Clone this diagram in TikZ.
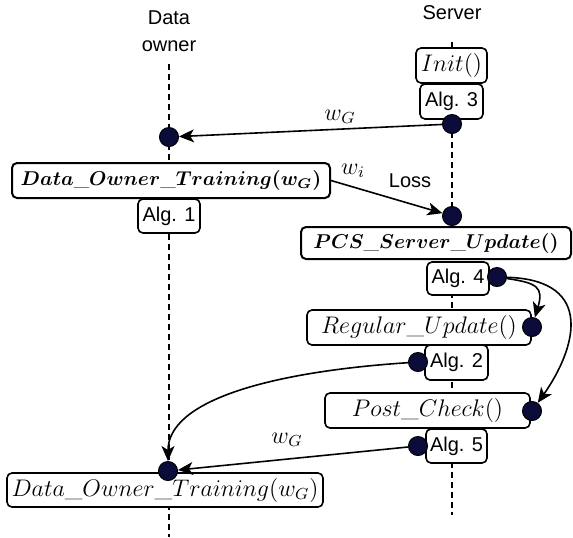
\documentclass[tikz,border=0pt]{standalone}
\usepackage{fontspec}
\setsansfont{Liberation Sans}
\usepackage{amsmath}
\usetikzlibrary{arrows.meta, backgrounds}
\definecolor{ink}{HTML}{000000}
\definecolor{dotfill}{HTML}{0B0C3A}
\tikzset{
  font=\sffamily\fontsize{10}{13.5}\selectfont,
  >={Stealth[length=7.5pt, width=6.5pt, inset=2pt]},
  %
  actor/.style={align=center, text=ink, inner sep=0pt},
  fbox/.style={
    draw=ink, line width=0.8pt, fill=white, rounded corners=2.5pt,
    inner sep=1pt, text=ink, font=\fontsize{12}{14}\selectfont,
  },
  fboxb/.style={fbox, line width=1pt, font=\fontsize{10.3}{12.5}\selectfont\boldmath},
  algbox/.style={fbox, font=\sffamily\fontsize{10}{12}\selectfont},
  %
  msgdot/.style={circle, draw=ink, fill=dotfill, line width=0.5pt,
                 minimum size=9.5pt, inner sep=0pt},
  lifeline/.style={draw=ink, line width=0.8pt, dash pattern=on 3pt off 2pt},
  flow/.style={draw=ink, line width=0.8pt, ->},
  lbl/.style={inner sep=1pt, text=ink, font=\fontsize{12}{14}\selectfont},
}

\begin{document}
\begin{tikzpicture}[x=0.5pt, y=-0.5pt]

  \useasboundingbox (0,0) rectangle (573,537);

  \node[actor] (owner)  at (169,31) {Data\\owner};
  \node[actor] (server) at (452,13) {Server};
  \coordinate (ownerend)  at (169,537);
  \coordinate (serverend) at (452,515);

  % server side
  \node[fbox, minimum width=35.5pt, minimum height=17.5pt] (init) at (451.5,65.5)
    {$Init()$};
  \node[algbox, minimum width=31.5pt, minimum height=17.5pt] (alg3) at (451.5,101.5)
    {Alg. 3};
  \node[fboxb, minimum width=135pt, minimum height=16pt] (pcs) at (436,243)
    {$PCS\_Server\_Update()$};
  \node[algbox, minimum width=31pt, minimum height=16.5pt] (alg4) at (458,278.5)
    {Alg. 4};
  \node[fbox, minimum width=112pt, minimum height=17.5pt] (regular) at (419,327.5)
    {$Regular\_Update()$};
  \node[algbox, minimum width=31.5pt, minimum height=17.5pt] (alg2) at (456.5,362.5)
    {Alg. 2};
  \node[fbox, minimum width=102.5pt, minimum height=17.5pt] (post) at (427.5,410.5)
    {$Post\_Check()$};
  \node[algbox, minimum width=30.5pt, minimum height=17pt] (alg5) at (456.5,446)
    {Alg. 5};

  % data owner side
  \node[fboxb, minimum width=159pt, minimum height=17.5pt] (dotrain) at (171,180.5)
    {$Data\_Owner\_Training(w_G)$};
  \node[algbox, minimum width=31pt, minimum height=17pt] (alg1) at (169,216)
    {Alg. 1};
  \node[fbox, minimum width=158pt, minimum height=17pt] (final) at (165,490)
    {$Data\_Owner\_Training(w_G)$};

  \begin{scope}[on background layer]
    \draw[lifeline] (owner.south) ++(0,12) -- (ownerend);
    \draw[lifeline] (server.south) ++(0,22) -- (serverend);
  \end{scope}

  % message points
  \node[msgdot] (dA) at (452,124) {};
  \node[msgdot] (dB) at (169,137) {};
  \node[msgdot] (dC) at (452,216) {};
  \node[msgdot] (dD) at (497,277) {};
  \node[msgdot] (dE) at (532,327) {};
  \node[msgdot] (dF) at (418,362) {};
  \node[msgdot] (dG) at (532,411) {};
  \node[msgdot] (dH) at (418,446) {};
  \node[msgdot] (dI) at (168,471) {};

  \node[lbl]   (wg1)  at (340,117) {$w_G$};
  \node[lbl]   (wi)   at (353,171) {$w_i$};
  \node[actor] (loss) at (410,181) {Loss};
  \node[lbl]   (wg2)  at (287,440) {$w_G$};

  \draw[flow] (dA) -- (dB);
  \draw[flow] (dotrain.east) -- (dC);
  \draw[flow] (dD) .. controls +(40,6) and +(12,-40) .. (dE);
  \draw[flow] (dD) .. controls +(100,3) and +(43,-61) .. (dG);
  \draw[flow] (dF) .. controls +(-150,10) and +(0,-70) .. (dI);
  \draw[flow] (dH) -- (dI);

\end{tikzpicture}
\end{document}
